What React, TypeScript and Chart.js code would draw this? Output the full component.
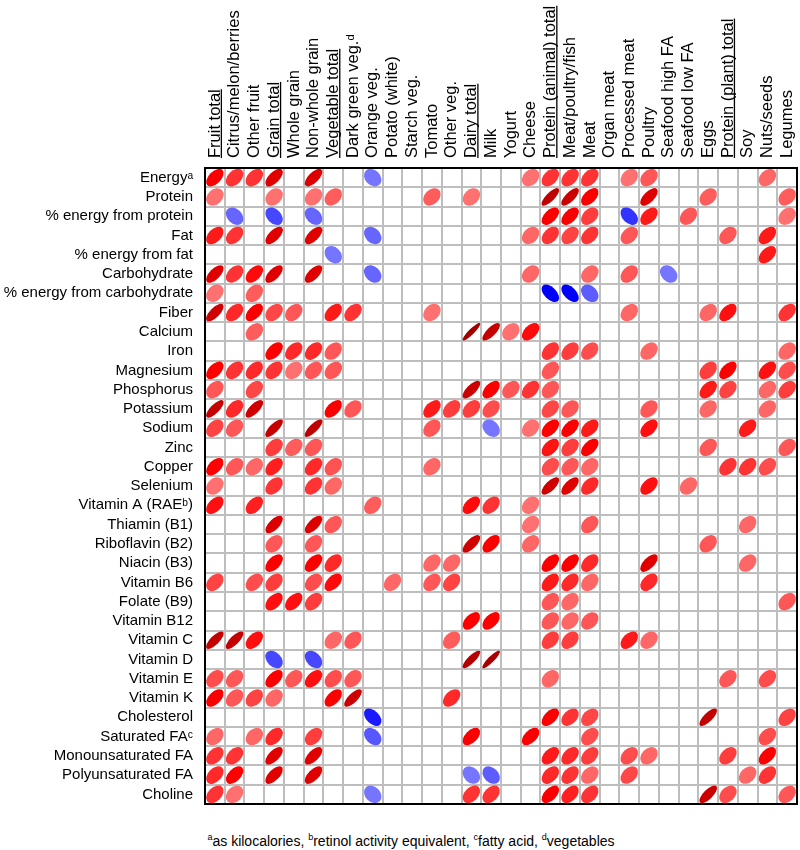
import React, { useEffect, useRef } from 'react';
import { Chart, registerables } from 'chart.js';

Chart.register(...registerables);

const foodGroups = [
  'Fruit total', 'Citrus/melon/berries', 'Other fruit', 'Grain total', 'Whole grain',
  'Non-whole grain', 'Vegetable total', 'Dark green veg.ᵈ', 'Orange veg.', 'Potato (white)',
  'Starch veg.', 'Tomato', 'Other veg.', 'Dairy total', 'Milk',
  'Yogurt', 'Cheese', 'Protein (animal) total', 'Meat/poultry/fish', 'Meat',
  'Organ meat', 'Processed meat', 'Poultry', 'Seafood high FA', 'Seafood low FA',
  'Eggs', 'Protein (plant) total', 'Soy', 'Nuts/seeds', 'Legumes',
];

const underlinedGroups = [
  'Fruit total', 'Grain total', 'Vegetable total', 'Dairy total',
  'Protein (animal) total', 'Protein (plant) total',
];

const nutrients = [
  'Energyᵃ', 'Protein', '% energy from protein', 'Fat', '% energy from fat',
  'Carbohydrate', '% energy from carbohydrate', 'Fiber', 'Calcium', 'Iron',
  'Magnesium', 'Phosphorus', 'Potassium', 'Sodium', 'Zinc', 'Copper', 'Selenium',
  'Vitamin A (RAEᵇ)', 'Thiamin (B1)', 'Riboflavin (B2)', 'Niacin (B3)', 'Vitamin B6',
  'Folate (B9)', 'Vitamin B12', 'Vitamin C', 'Vitamin D', 'Vitamin E', 'Vitamin K',
  'Cholesterol', 'Saturated FAᶜ', 'Monounsaturated FA', 'Polyunsaturated FA', 'Choline',
];

// correlation of each nutrient (row) with each food group (column); 0 = not shown
const correlations = [
  [.52,.4,.4,.63,0,.65,0,0,-.27,0, 0,0,0,0,0,0,.28,.4,.4,.4, 0,.28,.33,0,0,0,0,0,.3,0],
  [.28,0,0,.28,0,.28,.32,0,0,0, 0,.32,0,.28,0,0,0,.77,.72,.52, 0,0,.63,0,0,.32,0,0,0,.32],
  [0,-.3,0,-.36,0,-.3,0,0,0,0, 0,0,0,0,0,0,0,.52,.52,.38, 0,-.4,.45,0,.33,0,0,0,0,.28],
  [.45,.4,0,.63,0,.63,0,0,-.3,0, 0,0,0,0,0,0,.3,.4,.37,.4, 0,.33,0,0,0,0,.33,0,.45,0],
  [0,0,0,0,0,0,-.27,0,0,0, 0,0,0,0,0,0,0,0,0,0, 0,0,0,0,0,0,0,0,.45,0],
  [.63,.4,.48,.63,0,.63,0,0,-.3,0, 0,0,0,0,0,0,.3,0,0,.3, 0,.33,0,-.27,0,0,0,0,0,0],
  [.28,0,.32,0,0,0,0,0,0,0, 0,0,0,0,0,0,0,-.52,-.52,-.32, 0,0,0,0,0,0,0,0,0,0],
  [.7,.42,.52,.36,.33,0,.45,.4,0,0, 0,.28,0,0,0,0,0,0,0,0, 0,.3,0,0,0,.3,.47,0,0,.4],
  [0,0,.32,0,0,0,0,0,0,0, 0,0,0,.9,.75,.28,.48,0,0,0, 0,0,0,0,0,0,0,0,0,0],
  [0,0,0,.5,.42,.42,.33,0,0,0, 0,0,0,0,0,0,0,.4,.38,.35, 0,0,.3,0,0,0,0,0,0,.3],
  [.5,.4,.42,.4,.28,.33,.33,0,0,0, 0,0,0,0,0,0,0,.33,0,0, 0,0,0,0,0,.38,.52,0,.47,.35],
  [.33,0,.36,0,0,0,0,0,0,0, 0,0,0,.72,.52,.33,.4,.33,0,0, 0,0,0,0,0,.45,.37,0,.3,.38],
  [.75,.42,.7,0,0,0,.52,.33,0,0, 0,.45,.38,.38,.35,0,0,.36,.33,0, 0,0,.33,0,0,.3,0,0,.3,0],
  [.37,.33,0,.75,0,.78,0,0,0,0, 0,.33,0,0,-.27,0,.28,.5,.52,.45, 0,0,.47,0,0,0,0,.45,0,0],
  [0,0,0,.38,.32,.33,0,0,0,0, 0,0,0,0,0,0,0,.46,.38,.52, 0,0,0,0,0,.33,0,0,0,.33],
  [.5,.33,.3,.44,0,.42,.34,0,0,0, 0,.3,0,0,0,0,0,.35,.33,.3, 0,0,0,0,0,0,.4,.4,.35,0],
  [.28,0,0,.4,0,.4,.3,0,0,0, 0,0,0,0,0,0,0,.7,.63,.42, 0,0,.47,0,.3,0,0,0,0,0],
  [.47,0,.44,0,0,0,0,0,.32,0, 0,0,0,.48,.4,0,.28,0,0,0, 0,0,0,0,0,0,0,0,0,0],
  [0,0,0,.65,0,.65,.33,0,0,0, 0,0,0,0,0,0,.28,0,0,.33, 0,0,0,0,0,0,0,.3,0,0],
  [0,0,0,.33,0,.33,0,0,0,0, 0,0,0,.7,.52,0,.3,0,0,0, 0,0,0,0,0,.33,0,0,0,0],
  [0,0,0,.52,0,.52,.42,0,0,0, 0,.3,.3,0,0,0,0,.52,.52,.42, 0,0,.63,0,0,0,0,.3,0,0],
  [.37,0,.35,.38,0,.35,.48,0,0,.3, 0,.33,.37,0,0,0,0,.45,.42,.3, 0,0,.42,0,0,0,0,0,0,0],
  [0,0,0,.47,.47,.38,0,0,0,0, 0,0,0,0,0,0,0,.33,.3,0, 0,0,0,0,0,0,0,0,0,.33],
  [0,0,0,0,0,0,0,0,0,0, 0,0,0,.5,.5,0,0,.33,.3,.33, 0,0,0,0,0,0,0,0,0,0],
  [.75,.75,.47,0,0,0,.3,.33,0,0, 0,0,.32,0,0,0,0,.38,.38,0, 0,.45,.3,0,0,0,0,0,0,0],
  [0,0,0,-.36,0,-.36,0,0,0,0, 0,0,0,.82,.88,0,0,0,0,0, 0,0,0,0,0,0,0,0,0,0],
  [.35,.33,0,.52,.33,.47,.35,.33,0,0, 0,0,0,0,0,0,0,.3,0,0, 0,0,0,0,0,0,.33,0,.35,0],
  [.52,.33,.37,.3,0,0,.52,.72,0,0, 0,0,.42,0,0,0,0,0,0,0, 0,0,0,0,0,0,0,0,0,0],
  [0,0,0,0,0,0,0,0,-.45,0, 0,0,0,0,0,0,0,.52,.4,.36, 0,0,0,0,0,.75,0,0,0,.37],
  [.3,0,.3,.42,0,.38,0,0,-.33,0, 0,0,0,.52,0,0,.52,0,0,.35, 0,0,0,0,0,0,0,0,.35,0],
  [.4,.4,0,.63,0,.63,0,0,0,0, 0,0,0,0,0,0,0,.45,.42,.38, 0,.35,.3,0,0,0,.38,0,.52,0],
  [.42,.5,0,.63,0,.63,0,0,0,0, 0,0,0,-.27,-.32,0,0,.42,.4,.3, 0,.36,0,0,0,0,0,.3,.4,0],
  [.4,.28,0,0,0,0,0,0,-.27,0, 0,0,0,.4,.4,0,0,.52,.44,.4, 0,0,0,0,0,.72,.35,0,0,.33],
];

const FONT = '"Liberation Sans", Arial, Helvetica, sans-serif';
const COL_FONT_SIZE = 16.5;
const ROW_FONT_SIZE = 15;
const X_PAD = 10;
const COL_LABEL_SHIFT = 20;

function lerp(a: number[], b: number[], t: number) {
  return a.map((v, i) => Math.round(v + (b[i] - v) * t));
}

function corrColor(r: number) {
  const a = Math.min(1, Math.abs(r));
  const white = [255, 255, 255];
  const base = r >= 0 ? [255, 0, 0] : [0, 0, 255];
  const dark = r >= 0 ? [139, 0, 0] : [0, 0, 139];
  const c = a <= 0.5 ? lerp(white, base, a / 0.5) : lerp(base, dark, (a - 0.5) / 0.5);
  return `rgb(${c[0]},${c[1]},${c[2]})`;
}

const ellipsePlugin = {
  id: 'corrEllipses',
  afterDatasetsDraw(chart: any) {
    const { ctx } = chart;
    const xs = chart.scales.x;
    const ys = chart.scales.y;
    const cw = Math.abs(xs.getPixelForTick(1) - xs.getPixelForTick(0));
    const ch = Math.abs(ys.getPixelForTick(1) - ys.getPixelForTick(0));
    const s = 0.455 * Math.min(cw, ch);
    const meta = chart.getDatasetMeta(0);
    const data = chart.data.datasets[0].data as any[];
    ctx.save();
    meta.data.forEach((el: any, i: number) => {
      const r = data[i].r;
      const a = Math.max(0.02, s * Math.sqrt(1 + r));
      const b = Math.max(0.02, s * Math.sqrt(1 - r));
      ctx.beginPath();
      ctx.ellipse(el.x, el.y, a, b, -Math.PI / 4, 0, Math.PI * 2);
      ctx.fillStyle = corrColor(r);
      ctx.fill();
    });
    ctx.restore();
  },
};

const framePlugin = {
  id: 'frameAndUnderline',
  afterDraw(chart: any) {
    const { ctx, chartArea } = chart;
    const { left, top, right, bottom } = chartArea;
    ctx.save();
    ctx.strokeStyle = '#000';
    ctx.lineWidth = 2;
    ctx.strokeRect(left, top, right - left, bottom - top);
    const xs = chart.scales.x;
    ctx.font = `${COL_FONT_SIZE}px ${FONT}`;
    ctx.lineWidth = 1.3;
    underlinedGroups.forEach((name) => {
      const i = foodGroups.indexOf(name);
      const w = ctx.measureText(name).width;
      const x = xs.getPixelForTick(i) + 6.5;
      const y0 = top - X_PAD;
      ctx.beginPath();
      ctx.moveTo(x, y0);
      ctx.lineTo(x, y0 - w);
      ctx.stroke();
    });
    ctx.restore();
  },
};

export default function App() {
  const ref = useRef<HTMLCanvasElement>(null);
  useEffect(() => {
    document.body.style.margin = '0';
    document.documentElement.style.overflow = 'hidden';
    const points: any[] = [];
    correlations.forEach((row, ri) =>
      row.forEach((v, ci) => {
        if (v !== 0) points.push({ x: foodGroups[ci], y: nutrients[ri], r: v });
      })
    );
    const chart = new Chart(ref.current as HTMLCanvasElement, {
      type: 'scatter',
      data: {
        datasets: [{ data: points, pointRadius: 0, pointHoverRadius: 0, backgroundColor: 'transparent', borderColor: 'transparent' }],
      },
      options: {
        animation: false,
        responsive: false,
        devicePixelRatio: 1,
        events: [],
        layout: { padding: { top: 0, left: 0, right: 3, bottom: 2 } },
        plugins: { legend: { display: false }, tooltip: { enabled: false }, title: { display: false } },
        scales: {
          x: {
            type: 'category',
            labels: [...foodGroups],
            position: 'top',
            offset: true,
            grid: { offset: true, color: '#BEBEBE', lineWidth: 2, drawTicks: false },
            border: { display: false },
            ticks: {
              autoSkip: false,
              minRotation: 90,
              maxRotation: 90,
              padding: X_PAD,
              labelOffset: COL_LABEL_SHIFT,
              color: '#000',
              font: { family: FONT, size: COL_FONT_SIZE },
            },
            afterFit: (s: any) => { s.height = 168; },
          },
          y: {
            type: 'category',
            labels: [...nutrients],
            position: 'left',
            offset: true,
            grid: { offset: true, color: '#BEBEBE', lineWidth: 2, drawTicks: false },
            border: { display: false },
            ticks: {
              autoSkip: false,
              padding: 12,
              color: '#000',
              font: { family: FONT, size: ROW_FONT_SIZE },
            },
            afterFit: (s: any) => { s.width = 205; },
          },
        },
      } as any,
      plugins: [ellipsePlugin, framePlugin],
    });
    return () => chart.destroy();
  }, []);

  const supStyle: React.CSSProperties = { fontSize: '9px', verticalAlign: 'super', lineHeight: 0 };
  return (
    <div style={{ position: 'relative', width: 800, height: 850, overflow: 'hidden', background: '#fff' }}>
      <canvas ref={ref} width={800} height={825} style={{ display: 'block', width: 800, height: 825 }} />
      <div
        style={{
          position: 'absolute', top: 833, left: 0, width: 822, textAlign: 'center',
          fontFamily: FONT, fontSize: 14, lineHeight: '16px', color: '#000',
        }}
      >
        <sup style={supStyle}>a</sup>as kilocalories, <sup style={supStyle}>b</sup>retinol activity equivalent,{' '}
        <sup style={supStyle}>c</sup>fatty acid, <sup style={supStyle}>d</sup>vegetables
      </div>
    </div>
  );
}
